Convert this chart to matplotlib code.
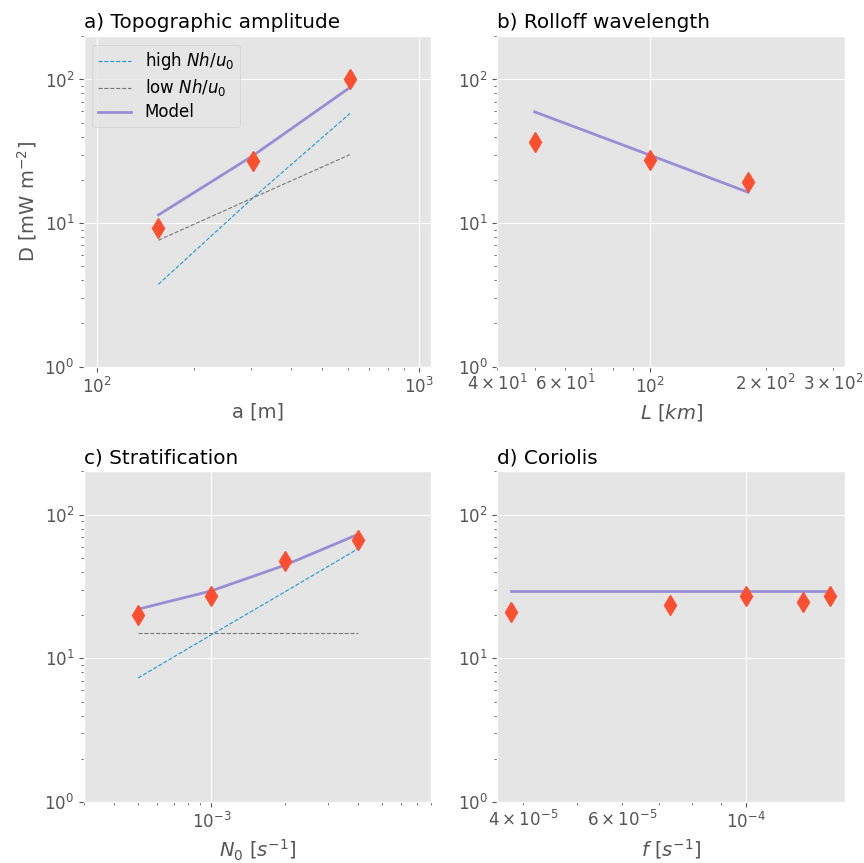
import matplotlib
matplotlib.use("Agg")
import matplotlib.pyplot as plt

# a) topographic amplitude
a_m = [155, 305, 610]
a_obs = [9.3, 27.2, 100]
a_model = [11.4, 29.5, 88]
a_high = [3.75, 15, 58]
a_low = [7.6, 15, 30]

# b) rolloff wavelength
L_km = [50, 100, 180]
L_obs = [36.7, 27.4, 19.4]
L_model = [59.5, 29.7, 16.4]

# c) stratification
N0 = [5e-4, 1e-3, 2e-3, 4e-3]
N0_obs = [20, 27.2, 47.6, 67]
N0_model = [22, 29.5, 44.5, 73]
N0_high = [7.3, 14.6, 29, 58]
N0_low = [15, 15, 15, 15]

# d) Coriolis
f_cor = [3.8e-5, 7.3e-5, 1.0e-4, 1.26e-4, 1.41e-4]
f_obs = [20.9, 23.7, 27.2, 24.6, 27.2]
f_model = [29.5, 29.5, 29.5, 29.5, 29.5]

RED = "#FC4F30"
BLUE = "#1C9AD6"
GRAY = "#777777"
PURPLE = "#988ED5"

plt.style.use("ggplot")
fig, axs = plt.subplots(2, 2, figsize=(8.64, 8.63), dpi=100)
fig.subplots_adjust(left=0.0972, right=0.978, top=0.958, bottom=0.0707,
                    wspace=0.19, hspace=0.317)
(ax0, ax1), (ax2, ax3) = axs


def obs(ax, x, y):
    ax.plot(x, y, "d", color=RED, ms=10)


ax0.plot(a_m, a_high, "--", color=BLUE, lw=0.8, label=r"high $Nh/u_0$")
ax0.plot(a_m, a_low, "--", color=GRAY, lw=0.8, label=r"low $Nh/u_0$")
ax0.plot(a_m, a_model, "-", color=PURPLE, lw=2, label="Model")
obs(ax0, a_m, a_obs)
ax0.set_xlim(91, 1093)
ax0.set_xlabel("a [m]")
ax0.set_ylabel(r"D [mW m$^{-2}$]")
ax0.set_title("a) Topographic amplitude", loc="left")
ax0.legend(loc="upper left", fontsize=12, labelspacing=0.3, borderpad=0.35)

ax1.plot(L_km, L_model, "-", color=PURPLE, lw=2)
obs(ax1, L_km, L_obs)
ax1.set_xlim(40, 322)
ax1.set_xlabel(r"$L\ [km]$")
ax1.set_title("b) Rolloff wavelength", loc="left")

ax2.plot(N0, N0_high, "--", color=BLUE, lw=0.8)
ax2.plot(N0, N0_low, "--", color=GRAY, lw=0.8)
ax2.plot(N0, N0_model, "-", color=PURPLE, lw=2)
obs(ax2, N0, N0_obs)
ax2.set_xlim(3e-4, 8e-3)
ax2.set_xlabel(r"$N_0\ [s^{-1}]$")
ax2.set_title("c) Stratification", loc="left")

ax3.plot(f_cor, f_model, "-", color=PURPLE, lw=2)
obs(ax3, f_cor, f_obs)
ax3.set_xlim(3.6e-5, 1.5e-4)
ax3.set_xlabel(r"$f\ [s^{-1}]$")
ax3.set_title("d) Coriolis", loc="left")

for ax in axs.flat:
    ax.set_xscale("log")
    ax.set_yscale("log")
    ax.set_ylim(1, 200)
    ax.tick_params(which="both", labelsize=12)
    ax.xaxis.label.set_size(14)
    ax.yaxis.label.set_size(14)
    ax.title.set_size(14.4)

fig.savefig("out.png", dpi=100)
